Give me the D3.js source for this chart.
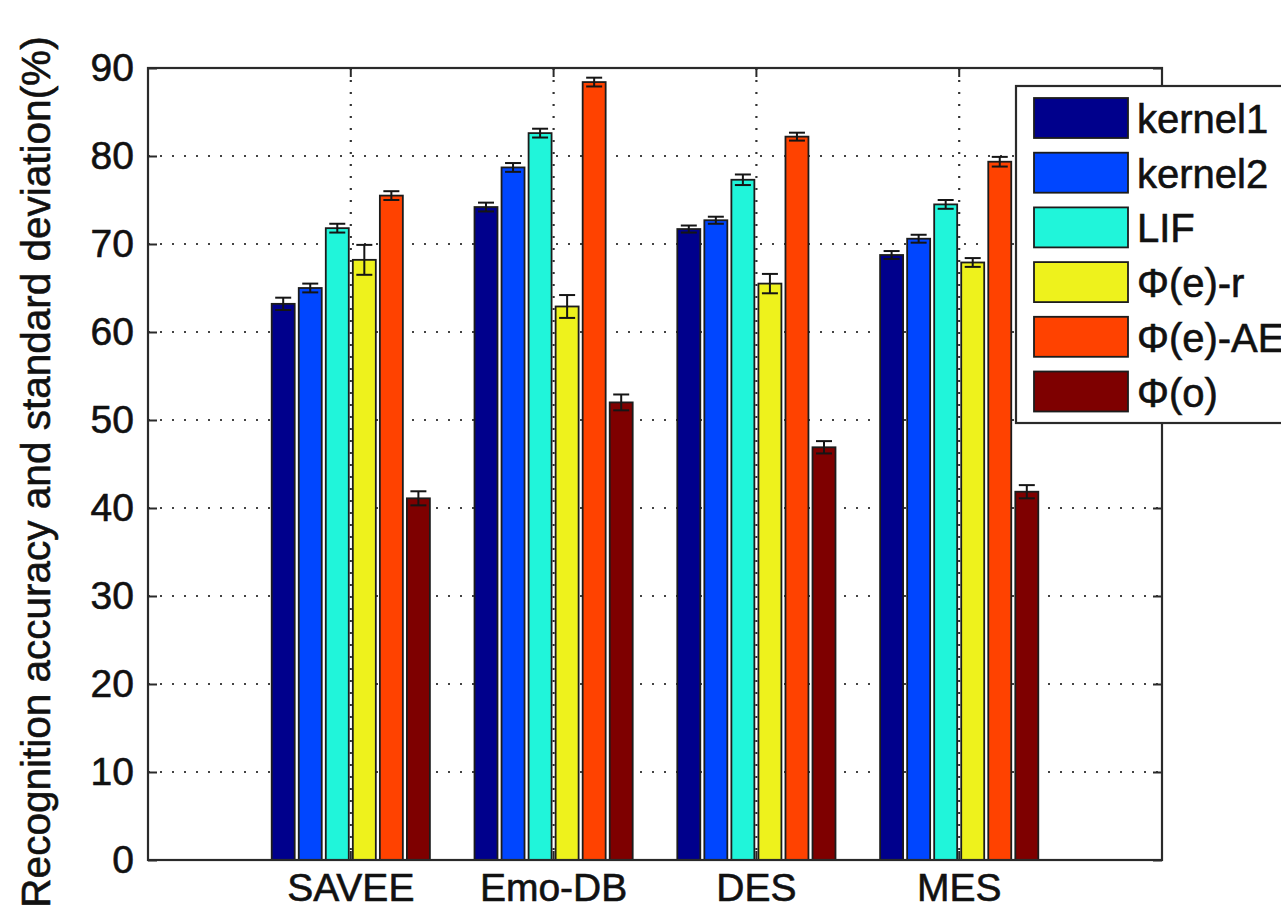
<!DOCTYPE html>
<html>
<head>
<meta charset="utf-8">
<script src="https://cdn.jsdelivr.net/npm/d3@7/dist/d3.min.js"></script>
<style>
  html, body { margin: 0; padding: 0; background: #ffffff; }
  svg { display: block; }
  text { font-family: "Liberation Sans", Arial, Helvetica, sans-serif; fill: #111; stroke: #111; stroke-width: 0.6px; }
</style>
</head>
<body>
<svg id="chart" width="1281" height="908"></svg>
<script>
// Datasets on the x axis
const datasets = ["SAVEE", "Emo-DB", "DES", "MES"];
// Feature sets compared in each dataset
const methods = ["kernel1", "kernel2", "LIF", "Φ(e)-r", "Φ(e)-AE", "Φ(o)"];
const methodColors = ["#00008C", "#0046FF", "#20F5DA", "#EEF21C", "#FF4200", "#7E0000"];

// Mean recognition accuracy (%) per method, one entry per dataset
const kernel1 = [63.2, 74.2, 71.7, 68.75];
const kernel2 = [65.0, 78.7, 72.7, 70.6];
const lif     = [71.8, 82.6, 77.3, 74.5];
const phiER   = [68.2, 62.9, 65.5, 67.9];
const phiEAE  = [75.5, 88.4, 82.2, 79.35];
const phiO    = [41.1, 52.0, 46.9, 41.85];

// Standard deviation (%) per method, one entry per dataset
const kernel1Sd = [0.7, 0.5, 0.4, 0.45];
const kernel2Sd = [0.5, 0.5, 0.4, 0.45];
const lifSd     = [0.5, 0.5, 0.6, 0.5];
const phiERSd   = [1.7, 1.3, 1.1, 0.5];
const phiEAESd  = [0.5, 0.5, 0.45, 0.55];
const phiOSd    = [0.8, 0.9, 0.7, 0.75];

const yTicks = [0, 10, 20, 30, 40, 50, 60, 70, 80, 90];
const yLabel = "Recognition accuracy and standard deviation(%)";

const means = [kernel1, kernel2, lif, phiER, phiEAE, phiO];
const sds = [kernel1Sd, kernel2Sd, lifSd, phiERSd, phiEAESd, phiOSd];

const rows = [];
datasets.forEach((ds, i) => {
  methods.forEach((m, j) => {
    rows.push({ dataset: ds, method: m, mean: means[j][i], sd: sds[j][i], color: methodColors[j] });
  });
});

const svg = d3.select("#chart");
const plotL = 148, plotR = 1162, plotT = 68, plotB = 860;
const FONT = 39;

const x0 = d3.scaleBand().domain(datasets).range([plotL, plotR])
  .paddingInner(0.2).paddingOuter(0.6);
const x1 = d3.scaleBand().domain(methods).range([0, x0.bandwidth()])
  .paddingInner(0.15).paddingOuter(0.075);
const y = d3.scaleLinear().domain([0, 90]).range([plotB, plotT]);

// horizontal dotted grid (behind bars)
svg.append("g").selectAll("line").data(yTicks.filter(t => t > 0 && t < 90)).join("line")
  .attr("x1", plotL).attr("x2", plotR)
  .attr("y1", d => y(d)).attr("y2", d => y(d))
  .attr("stroke", "#444").attr("stroke-width", 2.2)
  .attr("stroke-dasharray", "2,10");

// bars
const groups = svg.append("g").selectAll("g").data(datasets).join("g")
  .attr("transform", d => `translate(${x0(d)},0)`);

groups.selectAll("rect").data(ds => rows.filter(r => r.dataset === ds)).join("rect")
  .attr("x", d => x1(d.method))
  .attr("width", x1.bandwidth())
  .attr("y", d => y(d.mean))
  .attr("height", d => y(0) - y(d.mean))
  .attr("fill", d => d.color)
  .attr("stroke", "#1c1c1c").attr("stroke-width", 1.8);

// error bars
const capHalf = 8;
const eb = groups.selectAll("g.err").data(ds => rows.filter(r => r.dataset === ds)).join("g")
  .attr("class", "err")
  .attr("transform", d => `translate(${x1(d.method) + x1.bandwidth() / 2},0)`);
eb.append("line").attr("x1", 0).attr("x2", 0)
  .attr("y1", d => y(d.mean + d.sd)).attr("y2", d => y(d.mean - d.sd))
  .attr("stroke", "#151515").attr("stroke-width", 2);
eb.append("line").attr("x1", -capHalf).attr("x2", capHalf)
  .attr("y1", d => y(d.mean + d.sd)).attr("y2", d => y(d.mean + d.sd))
  .attr("stroke", "#151515").attr("stroke-width", 2);
eb.append("line").attr("x1", -capHalf).attr("x2", capHalf)
  .attr("y1", d => y(d.mean - d.sd)).attr("y2", d => y(d.mean - d.sd))
  .attr("stroke", "#151515").attr("stroke-width", 2);

// vertical dotted grid at dataset centres (drawn over the bars)
svg.append("g").selectAll("line").data(datasets).join("line")
  .attr("x1", d => x0(d) + x0.bandwidth() / 2).attr("x2", d => x0(d) + x0.bandwidth() / 2)
  .attr("y1", plotT).attr("y2", plotB)
  .attr("stroke", "#333").attr("stroke-width", 2.2)
  .attr("stroke-dasharray", "2,10");

// axes box
const axisColor = "#2a2a2a";
svg.append("rect").attr("x", plotL).attr("y", plotT)
  .attr("width", plotR - plotL).attr("height", plotB - plotT)
  .attr("fill", "none").attr("stroke", axisColor).attr("stroke-width", 2.2);

// y axis with inward ticks, mirrored on the right
const yAxis = svg.append("g").attr("transform", `translate(${plotL},0)`)
  .call(d3.axisLeft(y).tickValues(yTicks).tickSizeInner(-9).tickSizeOuter(0).tickPadding(14));
yAxis.select(".domain").remove();
yAxis.selectAll(".tick line").attr("stroke", axisColor).attr("stroke-width", 2);
yAxis.selectAll(".tick text").attr("font-size", FONT).attr("fill", "#111")
  .attr("font-family", "Liberation Sans, Arial, sans-serif");

const yAxisR = svg.append("g").attr("transform", `translate(${plotR},0)`)
  .call(d3.axisRight(y).tickValues(yTicks).tickSizeInner(-9).tickSizeOuter(0).tickFormat(""));
yAxisR.select(".domain").remove();
yAxisR.selectAll(".tick line").attr("stroke", axisColor).attr("stroke-width", 2);

// x axis with inward ticks, mirrored on top
const xAxis = svg.append("g").attr("transform", `translate(0,${plotB})`)
  .call(d3.axisBottom(x0).tickSizeInner(-9).tickSizeOuter(0).tickPadding(13));
xAxis.select(".domain").remove();
xAxis.selectAll(".tick line").attr("stroke", axisColor).attr("stroke-width", 2);
xAxis.selectAll(".tick text").attr("font-size", FONT).attr("fill", "#111")
  .attr("font-family", "Liberation Sans, Arial, sans-serif");

const xAxisT = svg.append("g").attr("transform", `translate(0,${plotT})`)
  .call(d3.axisTop(x0).tickSizeInner(-9).tickSizeOuter(0).tickFormat(""));
xAxisT.select(".domain").remove();
xAxisT.selectAll(".tick line").attr("stroke", axisColor).attr("stroke-width", 2);

// y axis title
svg.append("text")
  .attr("transform", `translate(50,472) rotate(-90)`)
  .attr("text-anchor", "middle")
  .attr("font-size", 40.5)
  .text(yLabel);

// legend
const lg = svg.append("g");
lg.append("rect").attr("x", 1016).attr("y", 86).attr("width", 290).attr("height", 337)
  .attr("fill", "#ffffff").attr("stroke", "#2a2a2a").attr("stroke-width", 2.2);
const item = lg.selectAll("g.item").data(methods).join("g").attr("class", "item")
  .attr("transform", (d, i) => `translate(1034,${98 + i * 54.7})`);
item.append("rect").attr("width", 94).attr("height", 40)
  .attr("fill", (d, i) => methodColors[i])
  .attr("stroke", "#1c1c1c").attr("stroke-width", 1.8);
item.append("text").attr("x", 103).attr("y", 35)
  .attr("font-size", 40)
  .text(d => d);
</script>
</body>
</html>
